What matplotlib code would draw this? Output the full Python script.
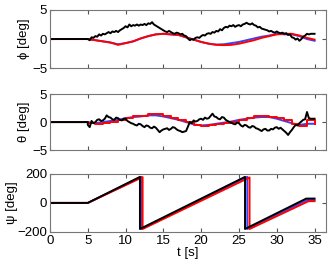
import numpy as np
import matplotlib.pyplot as plt

plt.rcParams['font.family'] = ['Liberation Sans', 'DejaVu Sans']

# black (measured) series, sampled every 0.25 s from t=5 to 35
phi_blk = [0.0, -0.2, 0.3, 0.2, 0.5, 0.4, 0.8, 0.6, 0.9, 0.8, 1.0, 1.2, 1.0, 1.3, 1.2, 1.4,
           1.2, 1.5, 1.7, 1.9, 2.2, 2.0, 2.5, 2.2, 2.4, 2.3, 2.5, 2.3, 2.5, 2.4, 2.6, 2.4,
           2.7, 2.6, 2.9, 2.5, 2.3, 2.1, 1.9, 1.7, 1.5, 1.3, 1.2, 1.4, 1.2, 1.0, 0.9, 1.1,
           1.0, 0.8, 0.9, 0.6, 0.5, 0.1, -0.2, 0.0, -0.1, 0.2, 0.3, 0.2, 0.5, 0.7, 0.6, 0.9,
           1.0, 0.9, 1.2, 1.1, 1.4, 1.3, 1.7, 1.5, 1.9, 2.1, 2.0, 2.3, 2.2, 2.4, 2.1, 2.3,
           2.4, 2.2, 2.5, 2.6, 2.8, 2.6, 2.5, 2.7, 2.4, 2.3, 2.0, 2.1, 1.8, 1.7, 1.6, 1.5,
           1.3, 1.4, 1.2, 1.1, 1.3, 1.1, 1.0, 1.1, 0.9, 1.0, 0.7, 0.8, 0.3, 0.2, -0.1, 0.1,
           -0.3, 0.0, 0.4, 0.6, 0.9, 0.8, 0.9, 0.9, 0.9]
theta_blk = [-0.5, -0.9, 0.2, -0.2, 0.0, 0.4, 0.5, 0.2, 0.3, 0.6, 1.2, 0.9, 0.8, 0.5, 0.4, 0.8,
             0.7, 0.4, 0.3, 0.6, 0.6, 0.2, 0.0, -0.2, -0.3, -0.5, -0.6, -0.3, -0.4, -0.7, -0.9, -0.6,
             -0.7, -1.0, -1.1, -0.8, -1.0, -1.4, -1.8, -1.5, -1.3, -1.2, -1.1, -1.4, -1.2, -0.9, -1.0, -1.3,
             -1.5, -1.6, -1.8, -1.7, -1.6, -0.8, 0.0, -0.2, 0.3, 0.1, 0.2, 0.5, 0.6, 0.4, 0.8, 0.6,
             0.7, 1.1, 1.5, 1.0, 0.9, 0.6, 0.5, 0.9, 0.8, 0.4, 0.2, 0.0, -0.1, -0.3, -0.4, -0.1,
             -0.2, -0.6, -0.8, -0.5, -0.6, -0.9, -1.0, -0.7, -0.8, -1.1, -1.2, -1.4, -1.6, -1.3, -1.2, -1.5,
             -1.5, -1.2, -1.3, -1.0, -0.9, -1.2, -1.0, -1.3, -1.6, -1.9, -2.3, -1.8, -1.4, -0.9, -0.5, -0.6,
             -0.2, 0.1, 0.4, 0.5, 1.8, 0.7, 0.6, 0.6, 0.6]
t_blk = 5.0 + 0.25 * np.arange(len(phi_blk))

# red and blue series, every 1 s from t=5 to 35
t_ref = np.arange(5.0, 35.01, 1.0)
phi_red = [0, -0.2, -0.4, -0.6, -1.0, -0.7, -0.4, 0.1, 0.5, 0.8, 0.9, 0.8, 0.7, 0.3, -0.1, -0.5,
           -0.8, -1.0, -1.05, -1.0, -0.8, -0.5, -0.2, 0.2, 0.5, 0.8, 0.9, 0.9, 0.6, 0.2, -0.1]
phi_blue = [0, -0.2, -0.4, -0.6, -0.9, -0.7, -0.4, 0.1, 0.5, 0.8, 0.9, 0.8, 0.7, 0.3, -0.1, -0.5,
            -0.8, -0.95, -0.9, -0.7, -0.5, -0.2, 0.1, 0.4, 0.6, 0.9, 0.8, 0.8, 0.5, 0.0, -0.3]
theta_red = [-0.2, -0.3, -0.1, 0.1, 0.4, 0.7, 1.0, 1.0, 1.5, 1.4, 1.0, 0.8, 0.4, 0.1, -0.6, -0.7,
             -0.5, -0.4, -0.2, 0.1, 0.3, 0.7, 1.0, 1.0, 0.9, 0.7, 0.3, -0.3, -0.7, 0.3, -0.4]
theta_blue = [0.0, -0.2, 0.0, 0.2, 0.4, 0.7, 0.9, 1.0, 1.2, 1.2, 1.0, 0.7, 0.4, 0.0, -0.4, -0.6,
              -0.5, -0.3, -0.1, 0.1, 0.4, 0.6, 0.8, 0.9, 0.9, 0.6, 0.2, -0.2, -0.5, -0.3, -0.3]

# yaw breakpoints (wraps at +-180)
t_psi_blk = [0, 5, 11.9, 11.9, 25.8, 25.8, 33.9, 35]
psi_blk = [0, 0, 180, -180, 180, -180, 30, 30]
t_psi_blue = [0, 5, 12.1, 12.1, 26.1, 26.1, 34.0, 35]
psi_blue = [0, 0, 180, -180, 180, -180, 20, 20]
t_psi_red = [0, 5, 12.25, 12.25, 26.4, 26.4, 34.2, 35]
psi_red = [0, 0, 178, -180, 176, -180, 12, 12]

zero_t = [0, 5]
zero_v = [0, 0]

fig = plt.figure(figsize=(3.32, 2.62), dpi=100)
boxes = [[0.1506, 0.740, 0.831, 0.222],
         [0.1506, 0.427, 0.831, 0.214],
         [0.1506, 0.115, 0.831, 0.221]]
axs = [fig.add_axes(b) for b in boxes]
lw = 1.4

ax = axs[0]
ax.plot(zero_t + list(t_ref), zero_v + phi_blue, color='#3344ff', lw=lw)
ax.plot(zero_t + list(t_ref), zero_v + phi_red, color='#ff0000', lw=lw)
ax.plot(zero_t + list(t_blk), zero_v + phi_blk, color='black', lw=lw)
ax.set_ylim(-5, 5)
ax.set_yticks([-5, 0, 5])

ax = axs[1]
ax.plot(zero_t + list(t_ref), zero_v + theta_blue, color='#3344ff', lw=lw)
ax.plot(zero_t + list(t_ref), zero_v + theta_red, color='#ff0000', lw=lw, drawstyle='steps-post')
ax.plot(zero_t + list(t_blk), zero_v + theta_blk, color='black', lw=lw)
ax.set_ylim(-5, 5)
ax.set_yticks([-5, 0, 5])

ax = axs[2]
ax.plot(t_psi_blue, psi_blue, color='#3344ff', lw=lw)
ax.plot(t_psi_red, psi_red, color='#ff0000', lw=lw)
ax.plot(t_psi_blk, psi_blk, color='black', lw=lw)
ax.set_ylim(-200, 200)
ax.set_yticks([-200, 0, 200])
ax.set_xlabel('t [s]', labelpad=0, fontsize=9.5)

# y labels placed in figure coords (MATLAB-like offsets)
fig.text(24 / 332, 0.851, 'ϕ [deg]', rotation=90, ha='center', va='center', fontsize=9.5)
fig.text(24 / 332, 0.534, 'θ [deg]', rotation=90, ha='center', va='center', fontsize=9.5)
fig.text(12 / 332, 0.225, 'ψ [deg]', rotation=90, ha='center', va='center', fontsize=9.5)

for i, ax in enumerate(axs):
    ax.set_xlim(0, 36.5)
    ax.set_xticks(range(0, 36, 5))
    ax.tick_params(direction='in', top=True, right=True, labelsize=9.5, length=3,
                   color='#555555', pad=2)
    if i < 2:
        ax.set_xticklabels([])
    for s in ax.spines.values():
        s.set_color('#777777')
        s.set_linewidth(0.8)

fig.savefig('out.png', dpi=100)
